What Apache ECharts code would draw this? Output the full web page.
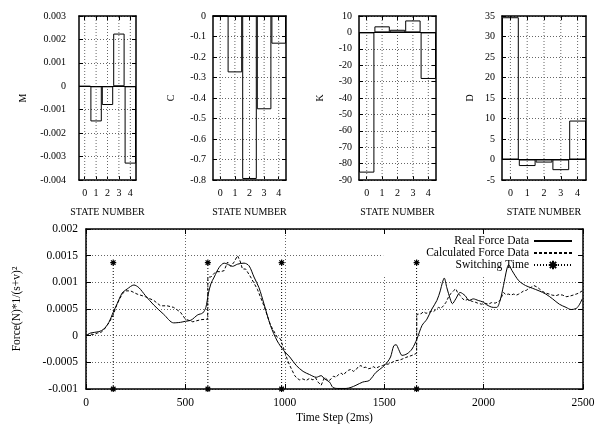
<!DOCTYPE html>
<html><head><meta charset="utf-8">
<script src="https://cdn.jsdelivr.net/npm/echarts@6/dist/echarts.min.js"></script>
<style>html,body{margin:0;padding:0;background:#fff}#c{width:598px;height:425px}</style>
</head><body><div id="c"></div>
<script>
// ---------- data ----------
const stateNumbers = ['0', '1', '2', '3', '4'];
const valuesM = [0, -0.0015, -0.0008, 0.00225, -0.0033];
const valuesC = [0, -0.275, -0.795, -0.455, -0.135];
const valuesK = [-85.5, 3.7, 1.6, 7.3, -28.4];
const valuesD = [34.7, -1.6, -0.75, -2.6, 9.5];

const realT = [0,23,65,90,115,137,157,182,207,241,266,299,341,391,441,475,500,528,562,587,603,615,628,645,670,695,717,737,762,795,820,845,870,895,928,962,995,1025,1058,1092,1125,1158,1183,1200,1225,1242,1267,1308,1333,1358,1392,1425,1458,1492,1515,1532,1548,1560,1573,1590,1615,1640,1665,1690,1715,1740,1765,1782,1793,1802,1815,1832,1843,1860,1882,1907,1927,1948,1973,1998,2015,2049,2066,2083,2100,2117,2126,2143,2177,2211,2245,2279,2313,2347,2381,2415,2440,2466,2483,2496];
const realF = [0,0.00005,0.000075,0.000125,0.00025,0.00044,0.0006,0.0008,0.000875,0.00095,0.0009,0.00075,0.000575,0.0004,0.00024,0.00025,0.00027,0.00029,0.00039,0.000425,0.00053,0.00078,0.00097,0.0011,0.00128,0.00136,0.00133,0.0013,0.00134,0.00136,0.00131,0.0011,0.0009,0.0006,0.00019,-0.0001,-0.00028,-0.0004,-0.00056,-0.00067,-0.00073,-0.00078,-0.00075,-0.00081,-0.00087,-0.00097,-0.00099,-0.00099,-0.00097,-0.00093,-0.00087,-0.00084,-0.00069,-0.00059,-0.0005,-0.0004,-0.00019,-0.00017,-0.00026,-0.00037,-0.00034,-0.00025,-0.00006,0.00019,0.00031,0.0005,0.00066,0.00084,0.001,0.00108,0.0009,0.00069,0.0006,0.00069,0.00081,0.00075,0.00066,0.00069,0.00066,0.00063,0.00058,0.00053,0.00053,0.00066,0.00094,0.00125,0.00133,0.00122,0.00103,0.00094,0.00089,0.00084,0.00078,0.00069,0.00059,0.00053,0.00049,0.00051,0.00059,0.00069];

const calcT = [0,23,40,57,75,90,115,135,157,182,199,224,257,299,341,375,408,441,475,500,537,578,612,613,628,653,678,695,712,728,745,762,775,787,803,828,862,895,928,962,978,995,1012,1025,1050,1062,1075,1090,1108,1125,1142,1155,1167,1183,1192,1200,1208,1220,1233,1245,1258,1270,1283,1295,1308,1320,1333,1345,1358,1370,1383,1395,1408,1420,1433,1445,1458,1475,1492,1508,1523,1540,1557,1575,1590,1608,1623,1640,1663,1664,1673,1685,1698,1710,1723,1735,1748,1760,1773,1785,1798,1810,1823,1835,1848,1860,1870,1882,1895,1907,1920,1932,1945,1957,1970,1990,2005,2024,2040,2058,2070,2083,2100,2112,2126,2138,2151,2165,2177,2190,2202,2215,2228,2240,2253,2270,2283,2296,2312,2330,2345,2364,2380,2398,2415,2432,2450,2466,2480,2496];
const calcF = [0,0.00003,0.00002,0.00005,0.00006,0.00011,0.00024,0.00037,0.0006,0.00078,0.00084,0.00084,0.00078,0.00073,0.00066,0.00056,0.00056,0.00053,0.00044,0.00031,0.00026,0.0003,0.00031,0.0011,0.0011,0.0012,0.0012,0.00122,0.00138,0.0013,0.00138,0.0015,0.0014,0.00125,0.00125,0.0011,0.00087,0.00056,0.0002,-0.00003,-0.00006,-0.00025,-0.00044,-0.00056,-0.00075,-0.0008,-0.00083,-0.00081,-0.00084,-0.0008,-0.00083,-0.00079,-0.00087,-0.00093,-0.0009,-0.00078,-0.00081,-0.00085,-0.00081,-0.00076,-0.00078,-0.00073,-0.0007,-0.00074,-0.00068,-0.00065,-0.00063,-0.00067,-0.00064,-0.00058,-0.00056,-0.0006,-0.00059,-0.00062,-0.00061,-0.00058,-0.00061,-0.00058,-0.00056,-0.00054,-0.00053,-0.0005,-0.00047,-0.00046,-0.00044,-0.00041,-0.00039,-0.00037,-0.00033,0.0004,0.00043,0.00041,0.00045,0.00042,0.00043,0.00046,0.00045,0.00049,0.00053,0.00051,0.00056,0.00062,0.00072,0.00079,0.00084,0.00088,0.0008,0.00075,0.00069,0.00066,0.00068,0.00066,0.00064,0.00063,0.00061,0.00059,0.00061,0.00059,0.00062,0.00061,0.00063,0.00066,0.00081,0.00077,0.00078,0.00076,0.00078,0.00076,0.00078,0.00081,0.00084,0.00085,0.00089,0.00091,0.00094,0.00091,0.00087,0.00083,0.0008,0.00078,0.00076,0.00075,0.00077,0.00076,0.00073,0.00074,0.00076,0.00078,0.0008,0.00084];

const switchTimes = [137, 613, 984, 1663];
const switchLow = -0.001;
const switchHigh = 0.00137;

// ---------- chart ----------
const FONT = 'Liberation Serif';
const BLACK = '#000';
const DOT = [1, 2];
const gridLine = {show: true, lineStyle: {color: '#666', width: 1, type: DOT}};
const chart = echarts.init(document.getElementById('c'), null, {renderer: 'canvas'});

const panels = [
  {name: 'M', data: valuesM, min: -0.004, max: 0.003, interval: 0.001, grid: {left: 79, top: 16, width: 57, height: 164}, nameGap: 51, labelMargin: 13},
  {name: 'C', data: valuesC, min: -0.8, max: 0, interval: 0.1, grid: {left: 213, top: 16, width: 73, height: 164}, nameGap: 37, labelMargin: 7},
  {name: 'K', data: valuesK, min: -90, max: 10, interval: 10, grid: {left: 359, top: 16, width: 77, height: 164}, nameGap: 34, labelMargin: 7},
  {name: 'D', data: valuesD, min: -5, max: 35, interval: 5, grid: {left: 502, top: 16, width: 84, height: 164}, nameGap: 27, labelMargin: 7}
];

const grids = [], xAxes = [], yAxes = [], series = [];
const lineAxis = {show: true, onZero: false, lineStyle: {color: BLACK, width: 1.5}};
panels.forEach((p, i) => {
  grids.push(Object.assign({}, p.grid));
  xAxes.push({gridIndex: i, type: 'category', data: stateNumbers, position: 'bottom',
    name: 'STATE NUMBER', nameLocation: 'middle', nameGap: 27,
    nameTextStyle: {fontFamily: FONT, fontSize: 10, color: BLACK},
    axisLine: lineAxis, axisTick: {show: true, inside: true, length: 4, alignWithLabel: true, lineStyle: {color: BLACK}},
    axisLabel: {fontFamily: FONT, fontSize: 10, color: BLACK, margin: 8}, splitLine: {show: false}});
  xAxes.push({gridIndex: i, type: 'category', data: stateNumbers, position: 'top', z: 3,
    axisLine: lineAxis, axisTick: {show: true, inside: true, length: 4, alignWithLabel: true, lineStyle: {color: BLACK}},
    axisLabel: {show: false}, splitLine: {show: false}});
  yAxes.push({gridIndex: i, type: 'value', min: p.min, max: p.max, interval: p.interval, position: 'left',
    name: p.name, nameLocation: 'middle', nameGap: p.nameGap,
    nameTextStyle: {fontFamily: FONT, fontSize: 10, color: BLACK},
    axisLine: lineAxis, axisTick: {show: true, inside: true, length: 4, lineStyle: {color: BLACK}},
    axisLabel: {fontFamily: FONT, fontSize: 10, color: BLACK, margin: p.labelMargin}, splitLine: gridLine});
  yAxes.push({gridIndex: i, type: 'value', min: p.min, max: p.max, interval: p.interval, position: 'right', z: 3,
    axisLine: lineAxis, axisTick: {show: true, inside: true, length: 4, lineStyle: {color: BLACK}},
    axisLabel: {show: false}, splitLine: {show: false}});
  // vertical dotted grid lines at each state number
  stateNumbers.forEach(s => {
    series.push({type: 'line', xAxisIndex: 2 * i, yAxisIndex: 2 * i, silent: true, symbol: 'none', z: 1,
      data: [[s, p.min], [s, p.max]], lineStyle: {color: '#666', width: 1, type: DOT}});
  });
  series.push({type: 'bar', xAxisIndex: 2 * i, yAxisIndex: 2 * i, data: p.data, barCategoryGap: '0%', z: 2,
    itemStyle: {color: 'rgba(0,0,0,0)', borderColor: BLACK, borderWidth: 1},
    markLine: {silent: true, symbol: ['none', 'none'], label: {show: false}, animation: false,
      data: [{yAxis: 0, lineStyle: {color: BLACK, width: 1, type: 'solid'}}]}});
});

// bottom chart
grids.push({left: 86, top: 229, width: 497, height: 160});
xAxes.push({gridIndex: 4, type: 'value', min: 0, max: 2500, interval: 500, position: 'bottom',
  name: 'Time Step (2ms)', nameLocation: 'middle', nameGap: 23,
  nameTextStyle: {fontFamily: FONT, fontSize: 11.5, color: BLACK},
  axisLine: lineAxis, axisTick: {show: true, inside: true, length: 5, lineStyle: {color: BLACK}},
  axisLabel: {fontFamily: FONT, fontSize: 11.5, color: BLACK, margin: 8, formatter: v => String(v)}, splitLine: gridLine});
xAxes.push({gridIndex: 4, type: 'value', min: 0, max: 2500, interval: 500, position: 'top', z: 3,
  axisLine: lineAxis, axisTick: {show: true, inside: true, length: 5, lineStyle: {color: BLACK}},
  axisLabel: {show: false}, splitLine: {show: false}});
yAxes.push({gridIndex: 4, type: 'value', min: -0.001, max: 0.002, interval: 0.0005, position: 'left',
  name: 'Force(N)*1/(s+v)²', nameLocation: 'middle', nameGap: 63,
  nameTextStyle: {fontFamily: FONT, fontSize: 11.5, color: BLACK},
  axisLine: lineAxis, axisTick: {show: true, inside: true, length: 5, lineStyle: {color: BLACK}},
  axisLabel: {fontFamily: FONT, fontSize: 11.5, color: BLACK, margin: 8}, splitLine: gridLine});
yAxes.push({gridIndex: 4, type: 'value', min: -0.001, max: 0.002, interval: 0.0005, position: 'right', z: 3,
  axisLine: lineAxis, axisTick: {show: true, inside: true, length: 5, lineStyle: {color: BLACK}},
  axisLabel: {show: false}, splitLine: {show: false}});

series.push({name: 'Real Force Data', type: 'line', xAxisIndex: 8, yAxisIndex: 8, symbol: 'none', smooth: 0.3,
  data: realT.map((t, k) => [t, realF[k]]), lineStyle: {color: BLACK, width: 1}, itemStyle: {color: BLACK}, z: 3});
series.push({name: 'Calculated Force Data', type: 'line', xAxisIndex: 8, yAxisIndex: 8, symbol: 'none',
  data: calcT.map((t, k) => [t, calcF[k]]), lineStyle: {color: BLACK, width: 1, type: [3, 2]}, itemStyle: {color: BLACK}, z: 3});
const star = 'path://M0,4L8,4M4,0L4,8M1,1L7,7M7,1L1,7';
switchTimes.forEach(t => {
  series.push({name: 'Switching Time', type: 'line', xAxisIndex: 8, yAxisIndex: 8, symbol: star, symbolSize: 6,
    showSymbol: true, clip: false, data: [[t, switchLow], [t, switchHigh]],
    lineStyle: {color: BLACK, width: 1, type: DOT}, itemStyle: {color: BLACK, borderColor: BLACK, borderWidth: 1.2}, z: 3});
});

chart.setOption({
  animation: false,
  textStyle: {fontFamily: FONT, color: BLACK},
  grid: grids, xAxis: xAxes, yAxis: yAxes, series: series,
  legend: {data: [
      {name: 'Real Force Data', itemStyle: {opacity: 0}},
      {name: 'Calculated Force Data', itemStyle: {opacity: 0}},
      {name: 'Switching Time'}],
    orient: 'vertical', align: 'right', right: 17, top: 231,
    itemWidth: 38, itemHeight: 10.5, itemGap: 0, padding: [4, 8, 4, 43],
    backgroundColor: '#fff', z: 1, selectedMode: false,
    textStyle: {fontFamily: FONT, fontSize: 11.5, color: BLACK}}
});
</script></body></html>
